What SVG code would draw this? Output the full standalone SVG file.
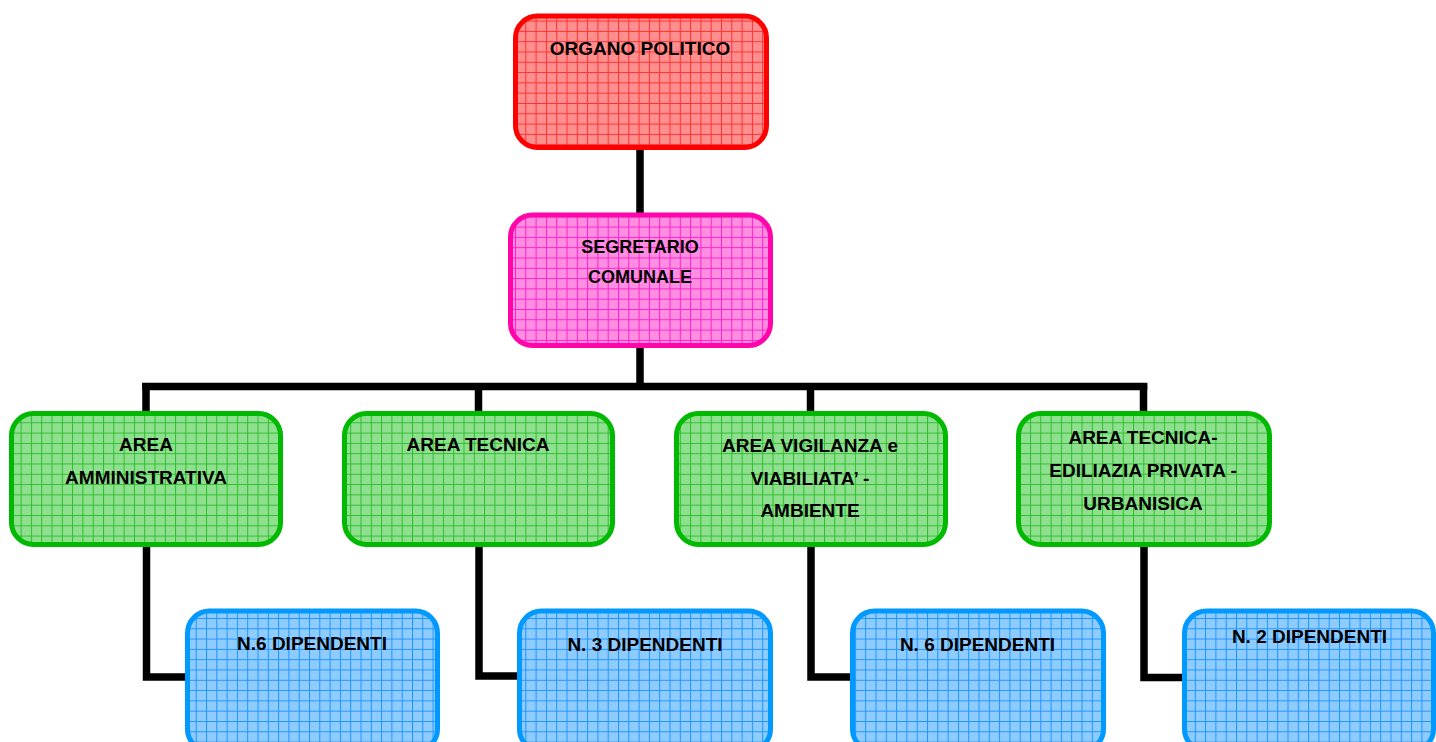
<svg xmlns="http://www.w3.org/2000/svg" width="1436" height="742" viewBox="0 0 1436 742">
  <defs>
    <pattern id="gRed" width="10.3" height="10.3" patternUnits="userSpaceOnUse">
      <rect width="10.3" height="10.3" fill="#FF8E8E"/>
      <path d="M0 0.5H10.3M0.5 0V10.3" stroke="#FF3030" stroke-width="1" fill="none"/>
    </pattern>
    <pattern id="gMag" width="10.3" height="10.3" patternUnits="userSpaceOnUse">
      <rect width="10.3" height="10.3" fill="#FF8EE2"/>
      <path d="M0 0.5H10.3M0.5 0V10.3" stroke="#FF20C8" stroke-width="1" fill="none"/>
    </pattern>
    <pattern id="gGreen" width="10.3" height="10.3" patternUnits="userSpaceOnUse">
      <rect width="10.3" height="10.3" fill="#8EE08E"/>
      <path d="M0 0.5H10.3M0.5 0V10.3" stroke="#2DBE2D" stroke-width="1" fill="none"/>
    </pattern>
    <pattern id="gBlue" width="10.3" height="10.3" patternUnits="userSpaceOnUse">
      <rect width="10.3" height="10.3" fill="#8ECBFF"/>
      <path d="M0 0.5H10.3M0.5 0V10.3" stroke="#1E96FF" stroke-width="1" fill="none"/>
    </pattern>
  </defs>
  <style>
    .box { stroke-width: 5; }
    .red { fill: url(#gRed); stroke: #FF0000; }
    .mag { fill: url(#gMag); stroke: #FF05AA; }
    .green { fill: url(#gGreen); stroke: #00B900; }
    .blue { fill: url(#gBlue); stroke: #0099FF; }
    .conn { fill: none; stroke: #000000; stroke-width: 7.5; stroke-linejoin: miter; stroke-linecap: butt; }
    text { font-family: "Liberation Sans", Arial, sans-serif; font-weight: bold; font-size: 19px; fill: #000000; text-anchor: middle; }
  </style>
  <rect width="1436" height="742" fill="#FFFFFF"/>

  <g id="connectors">
    <path class="conn" d="M640 150V214"/>
    <path class="conn" d="M640 347V386.5"/>
    <path class="conn" d="M142.25 386.5H1147.25"/>
    <path class="conn" d="M146 383V412"/>
    <path class="conn" d="M478.5 383V412"/>
    <path class="conn" d="M810.5 383V412"/>
    <path class="conn" d="M1143.5 383V412"/>
    <path class="conn" d="M146.5 545V677H188"/>
    <path class="conn" d="M479 545V676H519"/>
    <path class="conn" d="M811 545V677H853"/>
    <path class="conn" d="M1144 545V677.5H1185"/>
  </g>

  <g id="organo-politico">
    <rect class="box red" x="515.5" y="16" width="251" height="131.5" rx="22" ry="22"/>
    <text x="640" y="55">ORGANO POLITICO</text>
  </g>

  <g id="segretario-comunale">
    <rect class="box mag" x="510.5" y="215" width="260" height="130.5" rx="22" ry="22"/>
    <text x="640" y="252.5" style="font-size:18px">SEGRETARIO</text>
    <text x="640" y="282.5" style="font-size:18px">COMUNALE</text>
  </g>

  <g id="area-amministrativa">
    <rect class="box green" x="11.5" y="413.5" width="269" height="131" rx="22" ry="22"/>
    <text x="146" y="451">AREA</text>
    <text x="146" y="484">AMMINISTRATIVA</text>
  </g>

  <g id="area-tecnica">
    <rect class="box green" x="344.5" y="413.5" width="268" height="131" rx="22" ry="22"/>
    <text x="478" y="451">AREA TECNICA</text>
  </g>

  <g id="area-vigilanza">
    <rect class="box green" x="676.5" y="413.5" width="269" height="131" rx="22" ry="22"/>
    <text x="810" y="451.5">AREA VIGILANZA e</text>
    <text x="810" y="485">VIABILIATA’ -</text>
    <text x="810" y="517">AMBIENTE</text>
  </g>

  <g id="area-tecnica-edilizia">
    <rect class="box green" x="1018.5" y="413.5" width="251" height="131" rx="22" ry="22"/>
    <text x="1143" y="444">AREA TECNICA-</text>
    <text x="1143" y="476.5">EDILIAZIA PRIVATA -</text>
    <text x="1143" y="510">URBANISICA</text>
  </g>

  <g id="dipendenti-6a">
    <rect class="box blue" x="187.5" y="611" width="250" height="140" rx="22" ry="22"/>
    <text x="312" y="650">N.6 DIPENDENTI</text>
  </g>

  <g id="dipendenti-3">
    <rect class="box blue" x="519.5" y="611" width="251" height="140" rx="22" ry="22"/>
    <text x="645" y="650.5">N. 3 DIPENDENTI</text>
  </g>

  <g id="dipendenti-6b">
    <rect class="box blue" x="852.5" y="611" width="251" height="140" rx="22" ry="22"/>
    <text x="977.5" y="650.5">N. 6 DIPENDENTI</text>
  </g>

  <g id="dipendenti-2">
    <rect class="box blue" x="1184.5" y="611" width="249" height="140" rx="22" ry="22"/>
    <text x="1309.5" y="643">N. 2 DIPENDENTI</text>
  </g>
</svg>
